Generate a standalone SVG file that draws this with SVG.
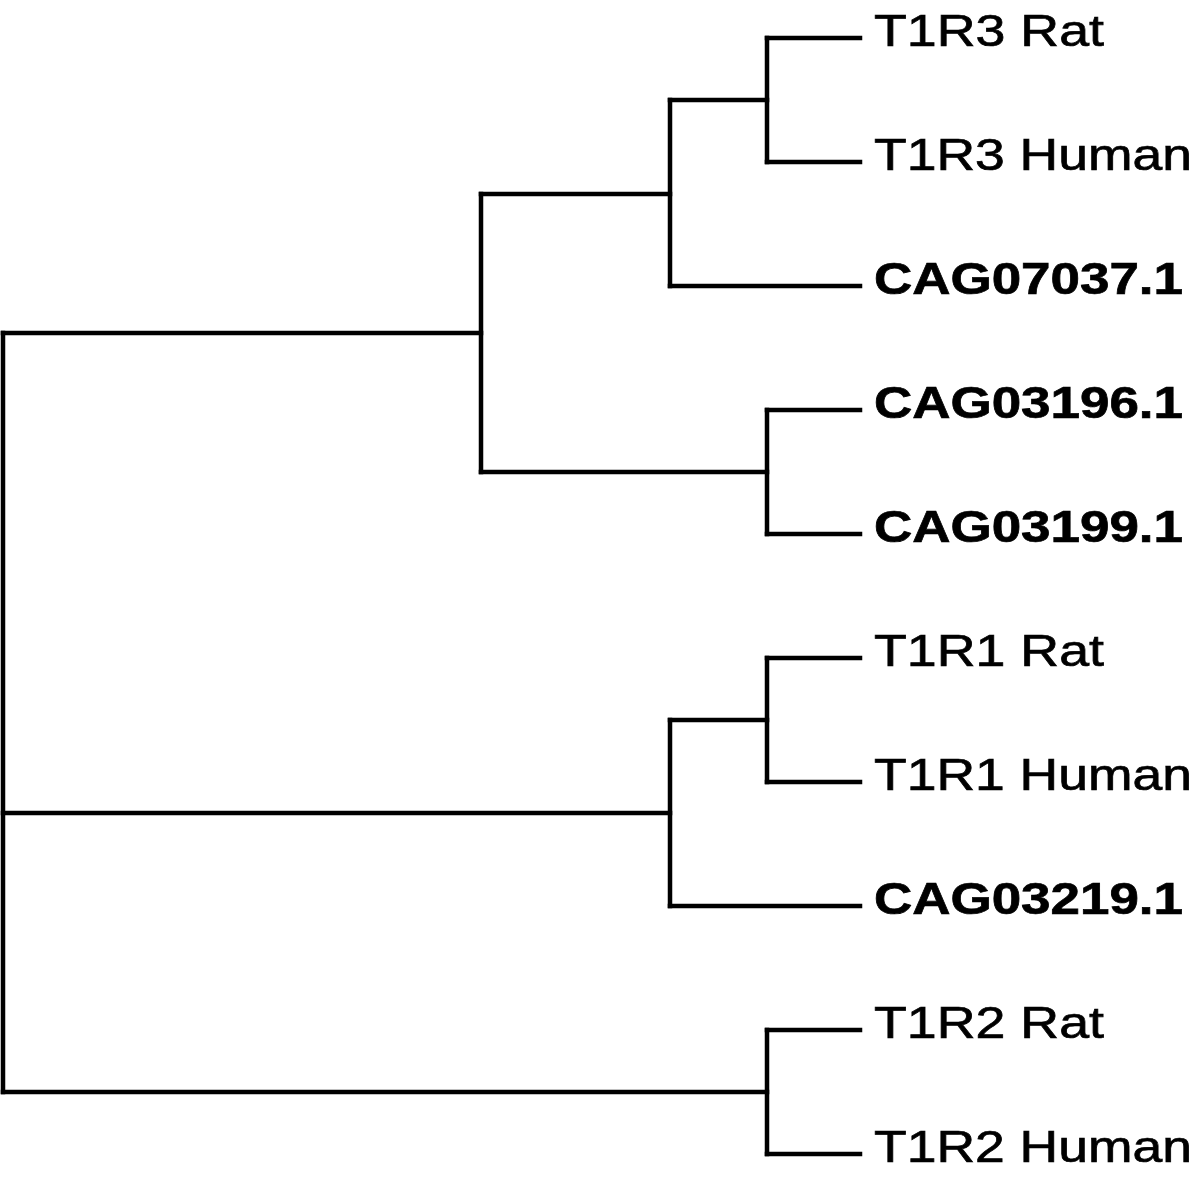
<svg xmlns="http://www.w3.org/2000/svg" width="1200" height="1177" viewBox="0 0 1200 1177">
<style>
.br{fill:none;stroke:#000;stroke-width:4.5;stroke-linejoin:miter;stroke-linecap:square}
.lb{font-family:"Liberation Sans",Arial,sans-serif;font-size:45px;fill:#000;stroke:#000;stroke-width:0.7}
.b{font-weight:bold}
</style>
<rect width="1200" height="1177" fill="#fff"/>
<g id="connectors">
<path class="br" d="M3 333 V1092"/>
<path class="br" d="M3 333 H481"/>
<path class="br" d="M3 813 H670"/>
<path class="br" d="M3 1092 H767"/>
<path class="br" d="M481 194 V472"/>
<path class="br" d="M481 194 H670"/>
<path class="br" d="M481 472 H767"/>
<path class="br" d="M670 100 V286"/>
<path class="br" d="M670 100 H767"/>
<path class="br" d="M670 286 H860"/>
<path class="br" d="M767 38 V162"/>
<path class="br" d="M767 38 H860"/>
<path class="br" d="M767 162 H860"/>
<path class="br" d="M767 410 V534"/>
<path class="br" d="M767 410 H860"/>
<path class="br" d="M767 534 H860"/>
<path class="br" d="M670 720 V906"/>
<path class="br" d="M670 720 H767"/>
<path class="br" d="M670 906 H860"/>
<path class="br" d="M767 658 V782"/>
<path class="br" d="M767 658 H860"/>
<path class="br" d="M767 782 H860"/>
<path class="br" d="M767 1030 V1154"/>
<path class="br" d="M767 1030 H860"/>
<path class="br" d="M767 1154 H860"/>
</g>
<g id="leaf-t1r3-rat"><text class="lb" x="874" y="46" textLength="230" lengthAdjust="spacingAndGlyphs">T1R3 Rat</text></g>
<g id="leaf-t1r3-human"><text class="lb" x="874" y="170" textLength="318" lengthAdjust="spacingAndGlyphs">T1R3 Human</text></g>
<g id="leaf-cag07037"><text class="lb b" x="874" y="294" textLength="309" lengthAdjust="spacingAndGlyphs">CAG07037.1</text></g>
<g id="leaf-cag03196"><text class="lb b" x="874" y="418" textLength="309" lengthAdjust="spacingAndGlyphs">CAG03196.1</text></g>
<g id="leaf-cag03199"><text class="lb b" x="874" y="542" textLength="309" lengthAdjust="spacingAndGlyphs">CAG03199.1</text></g>
<g id="leaf-t1r1-rat"><text class="lb" x="874" y="666" textLength="230" lengthAdjust="spacingAndGlyphs">T1R1 Rat</text></g>
<g id="leaf-t1r1-human"><text class="lb" x="874" y="790" textLength="318" lengthAdjust="spacingAndGlyphs">T1R1 Human</text></g>
<g id="leaf-cag03219"><text class="lb b" x="874" y="914" textLength="309" lengthAdjust="spacingAndGlyphs">CAG03219.1</text></g>
<g id="leaf-t1r2-rat"><text class="lb" x="874" y="1038" textLength="230" lengthAdjust="spacingAndGlyphs">T1R2 Rat</text></g>
<g id="leaf-t1r2-human"><text class="lb" x="874" y="1162" textLength="318" lengthAdjust="spacingAndGlyphs">T1R2 Human</text></g>
</svg>
